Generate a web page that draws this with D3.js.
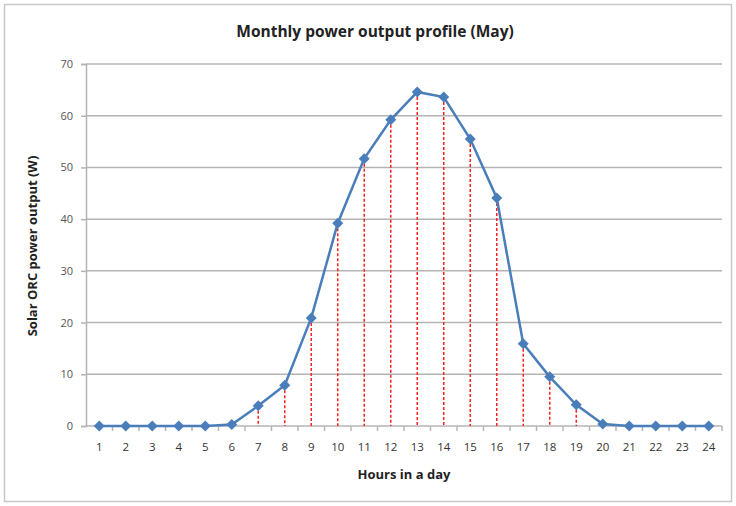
<!DOCTYPE html>
<html>
<head>
<meta charset="utf-8">
<script src="https://cdn.jsdelivr.net/npm/d3@7"></script>
<style>
  body { margin: 0; background: #fff; }
  text { font-family: "Open Sans", "Liberation Sans", sans-serif; }
</style>
</head>
<body>
<div id="chart"></div>
<script>
// data
var hours = ["1","2","3","4","5","6","7","8","9","10","11","12","13","14","15","16","17","18","19","20","21","22","23","24"];
var power = [0, 0, 0, 0, 0, 0.3, 3.9, 7.9, 20.9, 39.2, 51.7, 59.2, 64.6, 63.6, 55.5, 44.1, 15.9, 9.5, 4.1, 0.4, 0, 0, 0, 0];
var yTicks = [0, 10, 20, 30, 40, 50, 60, 70];

var width = 736, height = 506;
var margin = {left: 86, right: 14, top: 64, bottom: 80};

var svg = d3.select("#chart").append("svg")
    .attr("width", width)
    .attr("height", height);

// outer chart border
svg.append("rect")
    .attr("x", 4.5).attr("y", 4.5)
    .attr("width", width - 9).attr("height", height - 9)
    .attr("fill", "#fff")
    .attr("stroke", "#c8c8c8")
    .attr("stroke-width", 1.5);

var x = d3.scaleBand()
    .domain(hours)
    .range([margin.left, width - margin.right]);

var y = d3.scaleLinear()
    .domain([0, 70])
    .range([height - margin.bottom, margin.top]);

// horizontal gridlines
svg.append("g")
    .selectAll("line")
    .data(yTicks.filter(function(d) { return d > 0; }))
    .enter().append("line")
      .attr("x1", margin.left)
      .attr("x2", width - margin.right)
      .attr("y1", function(d) { return y(d); })
      .attr("y2", function(d) { return y(d); })
      .attr("stroke", "#b4b4b4")
      .attr("stroke-width", 1.5);

// y axis
var yAxis = svg.append("g")
    .attr("transform", "translate(" + margin.left + ",0)")
    .call(d3.axisLeft(y).tickValues(yTicks).tickSize(5).tickPadding(8));
yAxis.select(".domain").attr("stroke", "#b4b4b4").attr("stroke-width", 1.5);
yAxis.selectAll(".tick line").attr("stroke", "#b4b4b4").attr("stroke-width", 1.5);
yAxis.selectAll("text").attr("fill", "#555").attr("font-size", 11);

// x axis: line at zero, ticks between categories
var xg = svg.append("g")
    .attr("transform", "translate(0," + y(0) + ")");
xg.append("line")
    .attr("x1", margin.left).attr("x2", width - margin.right)
    .attr("stroke", "#b4b4b4").attr("stroke-width", 1.5);
xg.selectAll(".sep")
    .data(hours)
    .enter().append("line")
      .attr("class", "sep")
      .attr("x1", function(d) { return x(d) + x.bandwidth(); })
      .attr("x2", function(d) { return x(d) + x.bandwidth(); })
      .attr("y1", 0).attr("y2", 5)
      .attr("stroke", "#b4b4b4").attr("stroke-width", 1.5);
xg.selectAll(".lab")
    .data(hours)
    .enter().append("text")
      .attr("class", "lab")
      .attr("x", function(d) { return x(d) + x.bandwidth() / 2; })
      .attr("y", 25)
      .attr("text-anchor", "middle")
      .attr("fill", "#333")
      .attr("font-size", 11.5)
      .text(function(d) { return d; });

var pts = hours.map(function(h, i) { return {h: h, v: power[i]}; });
var cx = function(d) { return x(d.h) + x.bandwidth() / 2; };

// red dashed drop lines
svg.append("g")
    .selectAll("line")
    .data(pts.filter(function(d) { return d.v >= 1; }))
    .enter().append("line")
      .attr("x1", cx).attr("x2", cx)
      .attr("y1", function(d) { return y(d.v); })
      .attr("y2", y(0))
      .attr("stroke", "#ff2020")
      .attr("stroke-width", 1.5)
      .attr("stroke-dasharray", "3,2");

// series line
var line = d3.line()
    .x(cx)
    .y(function(d) { return y(d.v); });

svg.append("path")
    .datum(pts)
    .attr("d", line)
    .attr("fill", "none")
    .attr("stroke", "#4a7ebb")
    .attr("stroke-width", 2.5);

// diamond markers (square diamonds like Excel)
svg.append("g")
    .selectAll("path")
    .data(pts)
    .enter().append("path")
      .attr("d", "M0,-5.5L5.5,0L0,5.5L-5.5,0Z")
      .attr("transform", function(d) { return "translate(" + cx(d) + "," + y(d.v) + ")"; })
      .attr("fill", "#4a7ebb");

// titles
svg.append("text")
    .attr("x", 375).attr("y", 37)
    .attr("text-anchor", "middle")
    .attr("font-size", 15.5)
    .attr("font-weight", "bold")
    .attr("fill", "#222")
    .text("Monthly power output profile (May)");

svg.append("text")
    .attr("x", 404).attr("y", 479)
    .attr("text-anchor", "middle")
    .attr("font-size", 13)
    .attr("font-weight", "bold")
    .attr("fill", "#222")
    .text("Hours in a day");

svg.append("text")
    .attr("transform", "translate(37," + 246 + ") rotate(-90)")
    .attr("text-anchor", "middle")
    .attr("font-size", 13)
    .attr("font-weight", "bold")
    .attr("fill", "#222")
    .text("Solar ORC power output (W)");
</script>
</body>
</html>
